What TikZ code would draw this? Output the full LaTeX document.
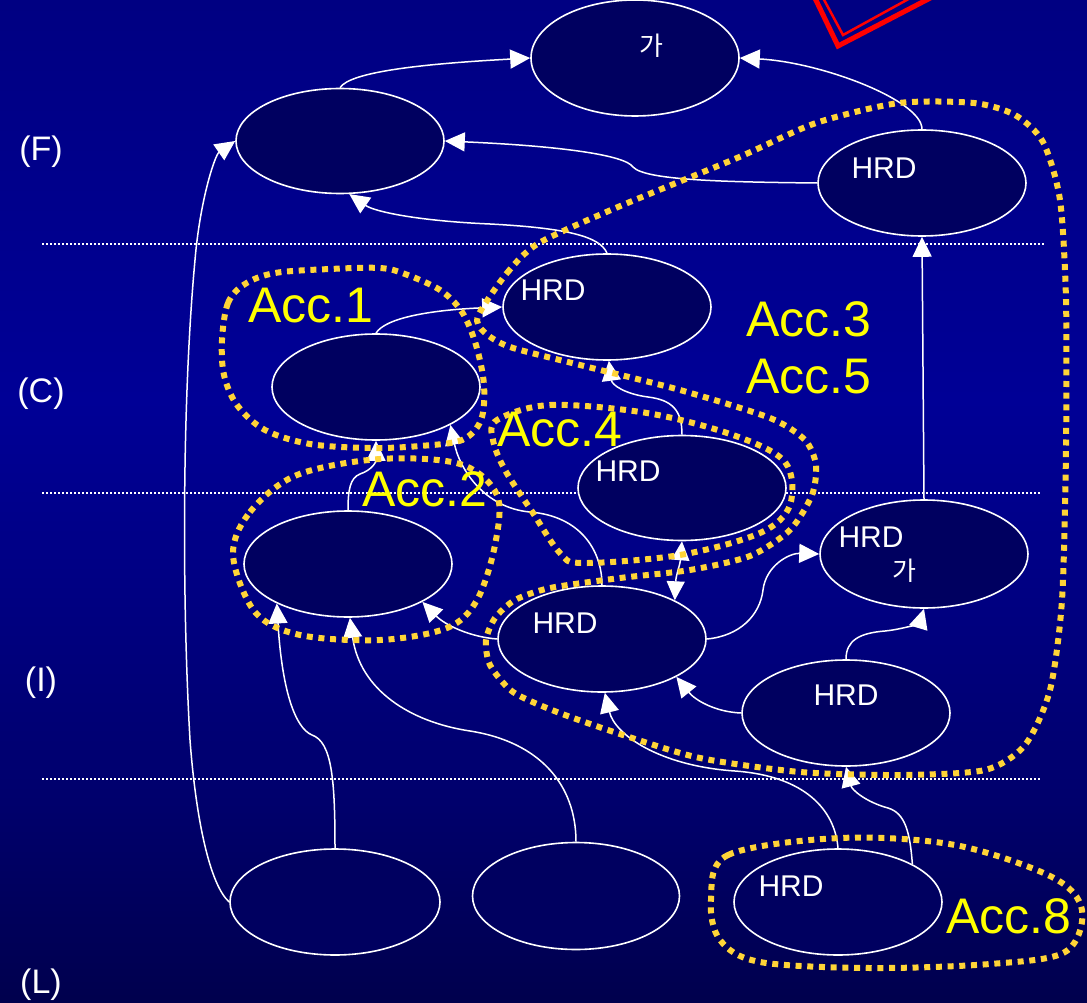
\documentclass[tikz,border=0pt]{standalone}
\usepackage{fontspec}
\setmainfont{Liberation Sans}
\newfontfamily\krfont{Noto Sans CJK KR}
\usetikzlibrary{arrows.meta,shapes.geometric}

\definecolor{bgA}{RGB}{0,0,28}
\definecolor{bgB}{RGB}{0,0,68}
\definecolor{bgC}{RGB}{0,0,108}
\definecolor{bgD}{RGB}{0,0,150}
\definecolor{bgE}{RGB}{0,0,130}
\definecolor{bgF}{RGB}{0,0,82}
\definecolor{nodefill}{RGB}{0,0,96}
\definecolor{accgold}{RGB}{255,212,55}
\definecolor{accyellow}{RGB}{255,255,0}
\definecolor{markred}{RGB}{255,0,0}

% vertical backdrop: dark at the foot, bright blue band in the middle
\pgfdeclareverticalshading{bgshade}{100bp}{color(0bp)=(bgA); color(22bp)=(bgB); color(35bp)=(bgC); color(55bp)=(bgD); color(75bp)=(bgE); color(100bp)=(bgF)}

\begin{document}
\begin{tikzpicture}[x=1pt,y=-1pt,
  unit/.style={ellipse, draw=white, line width=1.6pt, fill=nodefill,
    minimum width=208pt, minimum height=106pt, inner sep=0pt},
  flow/.style={draw=white, line width=1.5pt, -{Triangle[length=20pt,width=19pt]}},
  biflow/.style={draw=white, line width=1.5pt,
    {Triangle[length=19pt,width=18pt]}-{Triangle[length=19pt,width=18pt]}},
  tag/.style={text=white, inner sep=0pt, font=\fontsize{30pt}{34pt}\selectfont},
  hangul/.style={text=white, inner sep=0pt, font=\krfont\fontsize{26pt}{30pt}\selectfont},
  level/.style={text=white, inner sep=0pt, font=\fontsize{34pt}{38pt}\selectfont},
  acc/.style={text=accyellow, inner sep=0pt, anchor=base west,
    font=\fontsize{50pt}{54pt}\selectfont},
  acczone/.style={draw=accgold, line width=6pt, dash pattern=on 6pt off 5.7pt},
  divider/.style={draw=white, line width=1.2pt, dash pattern=on 2pt off 2pt}]

\useasboundingbox (0,0) rectangle (1087,1003);
\shade[shading=bgshade] (0,0) rectangle (1087,1003);

% red frame corner at the top edge
\draw[markred, line width=5pt, line join=miter] (813,-6) -- (838,46) -- (938,-6);
\draw[markred, line width=2.5pt, line join=miter] (822,-4) -- (843,35) -- (914,-4);

% level dividers
\draw[divider] (42,244) -- (1045,244);
\draw[divider] (42,493) -- (1040,493);
\draw[divider] (42,779) -- (1040,779);

% level labels
\node[level] (lvF) at (41,152) {(F)};
\node[level] (lvC) at (41,394) {(C)};
\node[level] (lvI) at (41,683) {(I)};
\node[level] (lvL) at (41,985) {(L)};

% units
\node[unit, minimum height=116pt] (ga) at (635,58) {};
\node[unit, minimum height=105pt] (fl) at (340,141) {};
\node[unit] (fr) at (922,183) {};
\node[unit] (ch) at (607,307) {};
\node[unit] (cl) at (376,387) {};
\node[unit, minimum height=105pt] (mh) at (682,488) {};
\node[unit] (il) at (348,564) {};
\node[unit, minimum height=108pt] (ig) at (924,554) {};
\node[unit] (ih) at (602,639) {};
\node[unit] (ir) at (846,713) {};
\node[unit, minimum width=210pt] (la) at (335,902) {};
\node[unit, minimum width=207pt, minimum height=107pt] (lb) at (576,896) {};
\node[unit] (lc) at (838,902) {};

% unit texts
\node[hangul] (tga) at (651,46) {가};
\node[tag] (tfr) at (884,168) {HRD};
\node[tag] (tch) at (553,290) {HRD};
\node[tag] (tmh) at (628,471) {HRD};
\node[tag] (tig) at (871,537) {HRD};
\node[hangul] (tig2) at (904,571) {가};
\node[tag] (tih) at (565,623) {HRD};
\node[tag] (tir) at (846,695) {HRD};
\node[tag] (tlc) at (791,886) {HRD};

% links
\draw[flow] (fl.north) .. controls (350,72) and (420,64) .. (ga.west);
\draw[flow] (fr.north) .. controls (922,100) and (820,62) .. (ga.east);
\draw[flow] (fr.west) .. controls (720,182) and (645,180) .. (633,167)
  .. controls (625,155) and (560,146) .. (fl.east);
\draw[flow] (ch.north) .. controls (600,236) and (565,228) .. (490,224)
  .. controls (420,221) and (375,212) .. (fl.-80);
\draw[flow] (la.west) .. controls (210,885) and (196,820) .. (190,740)
  .. controls (182,600) and (182,400) .. (195,260)
  .. controls (200,200) and (215,155) .. (fl.west);
\draw[flow] (cl.north) .. controls (385,318) and (430,310) .. (ch.west);
\draw[flow] (il.north) .. controls (348,490) and (350,478) .. (360,474)
  .. controls (372,470) and (376,462) .. (cl.south);
\draw[flow] (ih.north) .. controls (602,550) and (580,516) .. (530,512)
  .. controls (485,508) and (460,470) .. (cl.-27);
\draw[flow] (mh.north) .. controls (682,410) and (672,400) .. (648,397)
  .. controls (625,394) and (612,385) .. (ch.-88);
\draw[biflow] (mh.south) .. controls (680,565) and (676,575) .. (ih.28);
\draw[flow] (ih.east) .. controls (740,636) and (760,615) .. (763,590)
  .. controls (766,565) and (790,553) .. (ig.west);
\draw[flow] (ir.north) .. controls (846,640) and (860,633) .. (885,631)
  .. controls (905,629) and (920,622) .. (ig.south);
\draw[flow] (ir.west) .. controls (715,712) and (695,700) .. (ih.-27);
\draw[flow] (ih.west) .. controls (470,637) and (445,625) .. (il.-27);
\draw[flow] (ig.north) -- (fr.south);
\draw[flow] (la.north) .. controls (335,780) and (332,742) .. (312,735)
  .. controls (295,728) and (282,690) .. (il.-151);
\draw[flow] (lb.north) .. controls (576,785) and (540,742) .. (470,731)
  .. controls (410,722) and (360,690) .. (il.-88);
\draw[flow] (lc.north) .. controls (835,810) and (805,776) .. (735,771)
  .. controls (660,766) and (615,735) .. (ih.-87);
\draw[flow] (lc.27) .. controls (910,832) and (905,813) .. (888,808)
  .. controls (866,802) and (852,790) .. (ir.south);

% accreditation zones
\draw[acczone] plot[smooth cycle, tension=0.55] coordinates {
  (222,340) (228,303) (245,284) (275,273) (330,269) (380,268) (405,274)
  (440,290) (462,312) (476,345) (484,385) (481,420) (462,440) (420,446)
  (370,448) (310,444) (265,430) (237,405) (224,375)};
\draw[acczone] plot[smooth cycle, tension=0.55] coordinates {
  (233,555) (250,512) (297,475) (380,459) (460,464) (497,495) (495,545)
  (477,600) (447,628) (380,640) (300,635) (255,612)};
\draw[acczone] plot[smooth cycle, tension=0.55] coordinates {
  (497,420) (550,405) (647,413) (733,435) (785,462) (790,505) (760,533)
  (680,555) (583,563) (560,553) (533,513) (505,470) (493,440)};
\draw[acczone] plot[smooth cycle, tension=0.45] coordinates {
  (478,316) (507,273) (539,243) (618,207) (737,158) (816,123) (899,103)
  (974,103) (1015,115) (1043,142) (1060,200) (1066,300) (1066,450)
  (1062,600) (1050,690) (1025,745) (985,770) (900,775) (800,772)
  (700,758) (623,735) (557,712) (513,692) (490,665) (486,640) (495,618)
  (515,600) (550,588) (620,578) (690,570) (750,556) (790,530) (812,495)
  (816,465) (805,440) (770,418) (680,390) (580,365) (510,347) (484,332)};
\draw[acczone] plot[smooth cycle, tension=0.55] coordinates {
  (711,900) (728,855) (840,838) (955,845) (1052,877) (1082,910)
  (1065,952) (990,964) (870,968) (760,962) (720,940)};

% zone labels
\node[acc] (acc1) at (248,322) {Acc.1};
\node[acc] (acc3) at (746,336) {Acc.3};
\node[acc] (acc5) at (746,393) {Acc.5};
\node[acc] (acc4) at (497,446) {Acc.4};
\node[acc] (acc2) at (362,506) {Acc.2};
\node[acc] (acc8) at (946,933) {Acc.8};
\end{tikzpicture}
\end{document}
